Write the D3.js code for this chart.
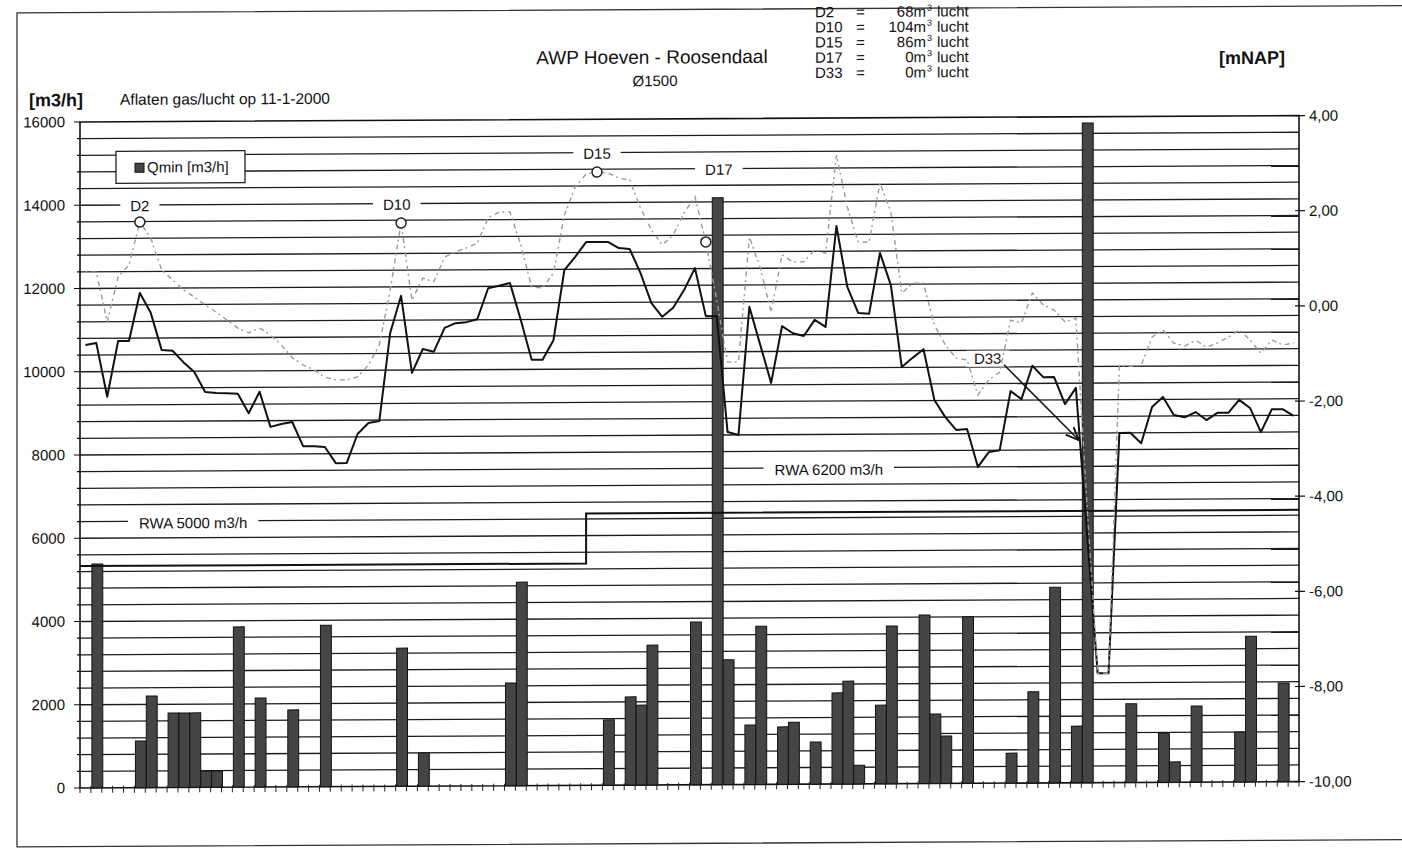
<!DOCTYPE html>
<html>
<head>
<meta charset="utf-8">
<script src="https://cdn.jsdelivr.net/npm/d3@7"></script>
<style>
  body { margin: 0; background: #fff; }
  svg text { font-family: "Liberation Sans", Arial, sans-serif; fill: #111; }
</style>
</head>
<body>
<div id="chart"></div>
<script>
// Categories: measurement points along the pipe (index 0..111).
const slotCount = 112;
const slots = d3.range(slotCount);

// Qmin bars [m3/h]: slot index and value.
const barSlots = [1, 5, 6, 8, 9, 10, 11, 12, 14, 16, 19, 22, 29, 31, 39, 40, 48, 50, 51, 52,
  56, 58, 59, 61, 62, 64, 65, 67, 69, 70, 71, 73, 74, 77, 78, 79, 81, 85, 87, 89,
  91, 92, 96, 99, 100, 102, 106, 107, 110];
const barValues = [5380, 1120, 2200, 1790, 1790, 1790, 390, 390, 3850, 2140, 1850, 3880, 3320, 800, 2470, 4890, 1570, 2120, 1920, 3360,
  3910, 14100, 3000, 1430, 3800, 1380, 1490, 1010, 2190, 2470, 450, 1890, 3790, 4050, 1670, 1140, 4000, 720, 2190, 4700,
  1360, 15850, 1890, 1180, 490, 1830, 1200, 3500, 2370];

// Solid black line [mNAP] (right axis).
const levelBlack = [-0.69, -0.65, -1.78, -0.61, -0.61, 0.40, -0.02, -0.80, -0.82, -1.06,
  -1.27, -1.69, -1.71, -1.72, -1.73, -2.14, -1.69, -2.43, -2.37, -2.33,
  -2.84, -2.84, -2.86, -3.20, -3.20, -2.59, -2.36, -2.32, -0.47, 0.31,
  -1.31, -0.81, -0.87, -0.37, -0.27, -0.25, -0.19, 0.46, 0.51, 0.57,
  -0.21, -1.05, -1.05, -0.64, 0.83, 1.11, 1.42, 1.42, 1.42, 1.29,
  1.27, 0.76, 0.13, -0.16, 0.03, 0.40, 0.86, -0.15, -0.15, -2.59,
  -2.65, 0.04, -0.76, -1.56, -0.37, -0.52, -0.58, -0.24, -0.39, 1.73,
  0.45, -0.10, -0.12, 1.16, 0.48, -1.24, -1.05, -0.87, -1.94, -2.30,
  -2.57, -2.55, -3.35, -3.04, -3.00, -1.76, -1.93, -1.23, -1.47, -1.47,
  -2.04, -1.70, -4.69, -7.70, -7.70, -2.65, -2.65, -2.87, -2.11, -1.90,
  -2.28, -2.33, -2.22, -2.39, -2.24, -2.24, -1.97, -2.14, -2.65, -2.17,
  -2.17, -2.31];

// Light dashed line [mNAP] (right axis).
const levelGray = [0.85, 0.84, -0.21, 0.74, 0.99, 1.89, 1.55, 0.88, 0.67, 0.46,
  0.31, 0.14, -0.01, -0.18, -0.35, -0.45, -0.35, -0.50, -0.71, -0.98,
  -1.13, -1.24, -1.39, -1.45, -1.45, -1.39, -1.14, -0.72, 0.43, 1.84,
  0.22, 0.68, 0.60, 1.12, 1.23, 1.31, 1.41, 1.94, 2.06, 2.06,
  1.37, 0.48, 0.46, 0.77, 1.99, 2.58, 2.85, 2.89, 2.87, 2.76,
  2.72, 2.13, 1.67, 1.35, 1.56, 2.02, 2.36, 1.41, 0.19, -1.12,
  -1.12, 1.51, 0.86, -0.07, 1.13, 0.98, 0.98, 1.23, 1.16, 3.22,
  2.13, 1.39, 1.39, 2.63, 2.02, 0.31, 0.52, 0.52, -0.36, -0.78,
  -1.06, -1.10, -1.84, -1.52, -1.36, -0.27, -0.33, 0.30, 0.05, -0.06,
  -0.31, -0.23, -4.06, -7.70, -7.70, -1.24, -1.25, -1.23, -0.64, -0.49,
  -0.77, -0.83, -0.71, -0.86, -0.77, -0.65, -0.50, -0.71, -0.99, -0.71,
  -0.82, -0.78];

// Marked points (circles) on the dashed line and their labels.
const markNames = ["D2", "D10", "D15", "D17"];
const markSlots = [5, 29, 47, 57];
const markLabelSlots = [5, 28.6, 47, 58.2];
const markLabelValues = [14000, 14000, 15200, 14800];

// RWA capacity step line [m3/h].
const rwaValues = [5330, 6530];
const rwaStepSlot = 46;
const rwaLabels = ["RWA 5000 m3/h", "RWA 6200 m3/h"];
const rwaLabelSlots = [9.9, 68.3];
const rwaLabelValues = [6400, 7600];

// Air volumes per point.
const airNames = ["D2", "D10", "D15", "D17", "D33"];
const airVolumes = [68, 104, 86, 0, 0];

const leftTicks = d3.range(0, 16001, 2000);
const rightTicks = d3.range(-10, 4.01, 2);

const width = 1402, height = 861;
const plot = { left: 80, right: 1299, top: 122.4, bottom: 788.4 };

const svg = d3.select('#chart').append('svg')
  .attr('width', width)
  .attr('height', height);

// the scanned page is slightly skewed
const g = svg.append('g').attr('transform', 'skewY(-0.3)');

const x = d3.scaleBand().domain(slots).range([plot.left, plot.right]).padding(0);
const xc = i => x(Math.floor(i)) + x.bandwidth() * (0.5 + i - Math.floor(i));
const yL = d3.scaleLinear().domain([0, 16000]).range([plot.bottom, plot.top]);
const yR = d3.scaleLinear().domain([-10, 4]).range([plot.bottom, plot.top]);

// Page frame.
g.append('rect')
  .attr('x', 17).attr('y', 13)
  .attr('width', 1400).attr('height', 834)
  .attr('fill', 'none').attr('stroke', '#333').attr('stroke-width', 1.3);

// Gridlines every 400 m3/h.
g.append('g').selectAll('line')
  .data(d3.range(400, 16000, 400))
  .join('line')
    .attr('x1', plot.left).attr('x2', plot.right)
    .attr('y1', d => yL(d)).attr('y2', d => yL(d))
    .attr('stroke', '#1c1c1c').attr('stroke-width', 1.3);

// Plot frame.
g.append('rect')
  .attr('x', plot.left).attr('y', plot.top)
  .attr('width', plot.right - plot.left).attr('height', plot.bottom - plot.top)
  .attr('fill', 'none').attr('stroke', '#111').attr('stroke-width', 1.6);

// Label boxes that interrupt gridlines.
function labelBox(cx, cy, text, padX) {
  const t = g.append('text')
    .attr('x', cx).attr('y', cy)
    .attr('text-anchor', 'middle').attr('dy', '0.35em')
    .attr('font-size', 15).text(text);
  const w = t.node().getComputedTextLength();
  g.insert('rect', 'text')
    .attr('x', cx - w / 2 - padX).attr('y', cy - 8)
    .attr('width', w + 2 * padX).attr('height', 16)
    .attr('fill', '#fff');
}
markNames.forEach((n, i) => labelBox(xc(markLabelSlots[i]), yL(markLabelValues[i]) + 1, n, 10));
rwaLabels.forEach((n, i) => labelBox(xc(rwaLabelSlots[i]), yL(rwaLabelValues[i]) + 2, n, 11));
labelBox(xc(82.9), yL(10200), 'D33', 8);

// Bars.
const bars = barSlots.map((s, i) => ({ slot: s, value: barValues[i] }));
g.append('g').selectAll('rect')
  .data(bars)
  .join('rect')
    .attr('x', d => x(d.slot) + 1)
    .attr('y', d => yL(d.value))
    .attr('width', x.bandwidth())
    .attr('height', d => yL(0) - yL(d.value))
    .attr('fill', '#454545')
    .attr('stroke', '#111').attr('stroke-width', 1);

// RWA step line.
const rwaX = x(rwaStepSlot) + x.bandwidth() / 2;
g.append('path')
  .attr('d', d3.line()([[plot.left, yL(rwaValues[0])], [rwaX, yL(rwaValues[0])],
    [rwaX, yL(rwaValues[1])], [plot.right, yL(rwaValues[1])]]))
  .attr('fill', 'none').attr('stroke', '#111').attr('stroke-width', 2);

// Level lines.
const line = d3.line().x((d, i) => xc(i)).y(d => yR(d));
g.append('path')
  .attr('d', line(levelBlack))
  .attr('fill', 'none').attr('stroke', '#111').attr('stroke-width', 2)
  .attr('stroke-linejoin', 'round');
g.append('path')
  .attr('d', line(levelGray))
  .attr('fill', 'none').attr('stroke', '#9a9a9a').attr('stroke-width', 1.4)
  .attr('stroke-dasharray', '2,4,5,3');

g.append('g').selectAll('circle')
  .data(markSlots)
  .join('circle')
    .attr('cx', d => xc(d)).attr('cy', d => yR(levelGray[d]))
    .attr('r', 5)
    .attr('fill', '#fff').attr('stroke', '#222').attr('stroke-width', 1.5);

// D33 arrow.
svg.append('defs').append('marker')
  .attr('id', 'arr').attr('viewBox', '0 0 10 10')
  .attr('refX', 9).attr('refY', 5)
  .attr('markerWidth', 9).attr('markerHeight', 9)
  .attr('orient', 'auto')
  .append('path').attr('d', 'M0,1 L10,5 L0,9').attr('fill', 'none').attr('stroke', '#111').attr('stroke-width', 1.4);
g.append('line')
  .attr('x1', xc(84.4)).attr('y1', yL(10050))
  .attr('x2', xc(91.2)).attr('y2', yR(-2.78))
  .attr('stroke', '#111').attr('stroke-width', 1.5)
  .attr('marker-end', 'url(#arr)');

// Left axis.
g.append('g').selectAll('line')
  .data(d3.range(0, 16001, 400))
  .join('line')
    .attr('x1', d => d % 2000 === 0 ? plot.left - 6 : plot.left - 3).attr('x2', plot.left)
    .attr('y1', d => yL(d)).attr('y2', d => yL(d))
    .attr('stroke', '#111').attr('stroke-width', 1.2);
g.append('g').selectAll('text')
  .data(leftTicks)
  .join('text')
    .attr('x', 65).attr('y', d => yL(d)).attr('dy', '0.35em')
    .attr('text-anchor', 'end').attr('font-size', 15)
    .text(d => d);

// Right axis.
g.append('g').selectAll('line')
  .data(rightTicks)
  .join('line')
    .attr('x1', plot.right - 4).attr('x2', plot.right + 6)
    .attr('y1', d => yR(d)).attr('y2', d => yR(d))
    .attr('stroke', '#111').attr('stroke-width', 1.2);
g.append('g').selectAll('text')
  .data(rightTicks)
  .join('text')
    .attr('x', 1309).attr('y', d => yR(d)).attr('dy', '0.35em')
    .attr('font-size', 15)
    .text(d => d.toFixed(2).replace('.', ','));

// Category ticks.
g.append('g').selectAll('line')
  .data(d3.range(slotCount + 1))
  .join('line')
    .attr('x1', d => plot.left + d * x.bandwidth()).attr('x2', d => plot.left + d * x.bandwidth())
    .attr('y1', plot.bottom - 2).attr('y2', plot.bottom + 5)
    .attr('stroke', '#222').attr('stroke-width', 1);

// Legend.
const leg = g.append('g').attr('transform', 'translate(116,152)');
leg.append('rect').attr('width', 129).attr('height', 32)
  .attr('fill', '#fff').attr('stroke', '#222').attr('stroke-width', 1.3);
leg.append('rect').attr('x', 19).attr('y', 12).attr('width', 9).attr('height', 9)
  .attr('fill', '#454545').attr('stroke', '#111');
leg.append('text').attr('x', 31).attr('y', 16).attr('dy', '0.35em')
  .attr('font-size', 15).text('Qmin [m3/h]');

// Header texts.
g.append('text').attr('x', 56).attr('y', 106.5).attr('text-anchor', 'middle')
  .attr('font-size', 18).attr('font-weight', 'bold').text('[m3/h]');
g.append('text').attr('x', 120).attr('y', 105.5)
  .attr('font-size', 15.5).text('Aflaten gas/lucht op 11-1-2000');
g.append('text').attr('x', 652).attr('y', 67).attr('text-anchor', 'middle')
  .attr('font-size', 19).text('AWP Hoeven - Roosendaal');
g.append('text').attr('x', 655).attr('y', 89.5).attr('text-anchor', 'middle')
  .attr('font-size', 15).text('Ø1500');
g.append('text').attr('x', 1252).attr('y', 70.5).attr('text-anchor', 'middle')
  .attr('font-size', 18).attr('font-weight', 'bold').text('[mNAP]');

const air = g.append('g').attr('font-size', 15);
airNames.forEach((n, i) => {
  const yy = 21.5 + i * 15.2;
  air.append('text').attr('x', 815).attr('y', yy).attr('font-size', 15).text(n);
  air.append('text').attr('x', 856).attr('y', yy).attr('font-size', 15).text('=');
  air.append('text').attr('x', 926).attr('y', yy).attr('text-anchor', 'end').attr('font-size', 15).text(airVolumes[i] + 'm');
  air.append('text').attr('x', 927).attr('y', yy - 6).attr('font-size', 9).text('3');
  air.append('text').attr('x', 937).attr('y', yy).attr('font-size', 15).text('lucht');
});
</script>
</body>
</html>
